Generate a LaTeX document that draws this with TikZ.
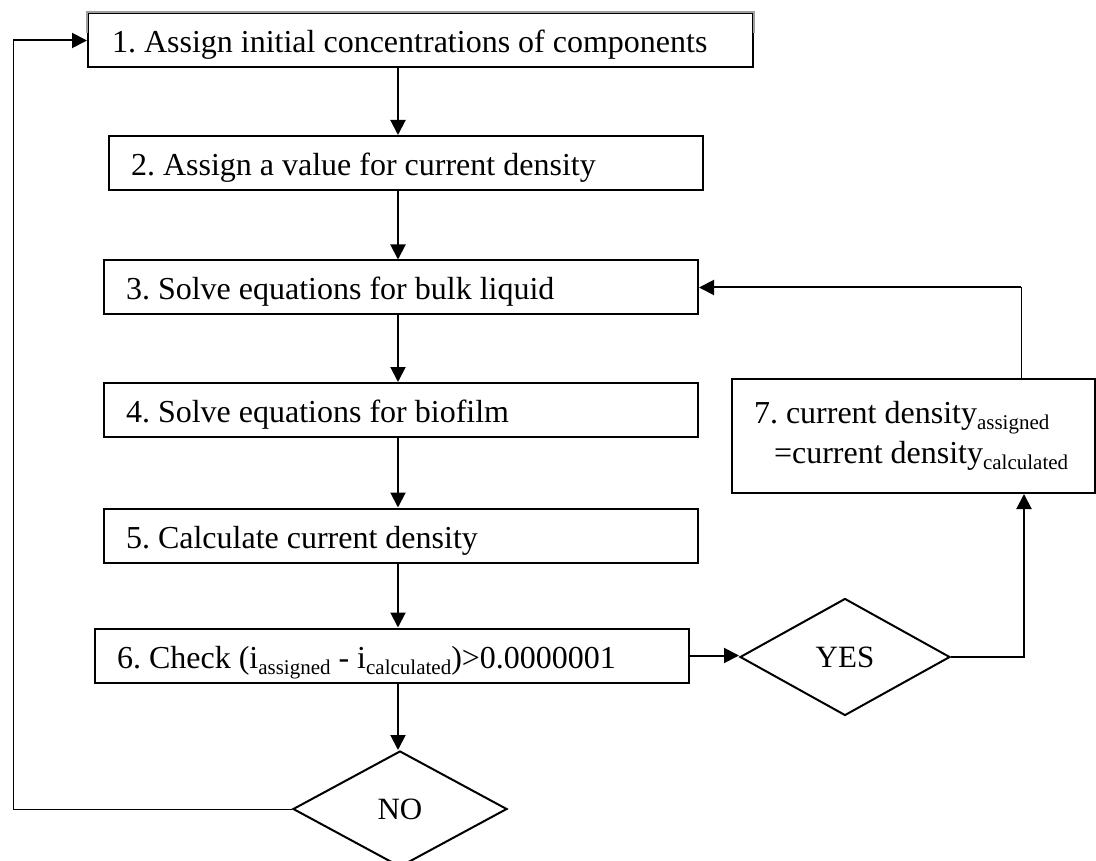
\documentclass[tikz,border=0pt]{standalone}
\usepackage{fontspec}
\setmainfont{Liberation Serif}
\usetikzlibrary{arrows, arrows.meta}
\usetikzlibrary{shapes.geometric}

\newcommand{\lowtxt}[1]{\raisebox{-6pt}{\fontsize{21}{24}\selectfont #1}}
\frenchspacing

\begin{document}
\begin{tikzpicture}[x=1pt, y=-1pt, >={Triangle[length=15pt, width=15pt]},
    box/.style={draw, line width=2pt, align=flush left, inner xsep=22pt, inner ysep=0pt, font=\fontsize{32}{40}\selectfont},
    stepbox/.style={box, minimum height=54pt, text height=25pt, text depth=0pt},
    decision/.style={draw, line width=2pt, diamond, inner sep=0pt, font=\fontsize{31}{36}\selectfont},
    flow/.style={line width=2pt, ->},
    thinline/.style={line width=1pt}]
    \useasboundingbox (0,0) rectangle (1096,861);
    % main column
    \node[stepbox, text width=617pt, inner xsep=24pt] (assign) at (420.5,40.5) {1. Assign initial concentrations of components};
    \node[stepbox, text width=550pt] (value) at (406,163) {2. Assign a value for current density};
    \node[stepbox, text width=550pt] (bulk) at (401,287.5) {3. Solve equations for bulk liquid};
    \node[stepbox, text width=550pt] (biofilm) at (401,410) {4. Solve equations for biofilm};
    \node[stepbox, text width=550pt] (current) at (401,535.5) {5. Calculate current density};
    \node[stepbox, text width=550pt] (check) at (392,655.5) {6. Check (i\lowtxt{assigned} - i\lowtxt{calculated})>0.0000001};
    \node[decision, minimum width=210pt, minimum height=117pt] (yes) at (845,657) {YES};
    \node[decision, minimum width=214pt, minimum height=116pt] (no) at (400,809) {NO};
    \node[box, text width=319pt, minimum height=114pt] (update) at (913.5,436) {7. current density\lowtxt{assigned}\\\hspace*{20pt}=current density\lowtxt{calculated}};
    % grey top edge of the first box
    \draw[gray!75, line width=2pt] ([yshift=-21pt]assign.north west) -- (assign.north west) -- (assign.north east) -- ([yshift=-21pt]assign.north east);
    % arrows
    \coordinate (axis) at (398,0);
    \foreach \a/\b in {assign/value, value/bulk, bulk/biofilm, biofilm/current, current/check, check/no}
        \draw[flow] (\a.south -| axis) -- (\b.north -| axis);
    \draw[flow] (check.east) -- (check.east -| yes.west);
    \draw[flow] (yes.east) -| ([xshift=110.5pt]update.south);
    \coordinate (updtop) at ([xshift=107.5pt]update.north);
    \draw[thinline] (updtop) -- (updtop |- bulk.east);
    \draw[flow] (updtop |- bulk.east) -- (bulk.east);
    \coordinate (loop) at (13,40.5);
    \draw[thinline] (no.west) -| (loop);
    \draw[flow] (loop) -- (assign.west);
\end{tikzpicture}
\end{document}
